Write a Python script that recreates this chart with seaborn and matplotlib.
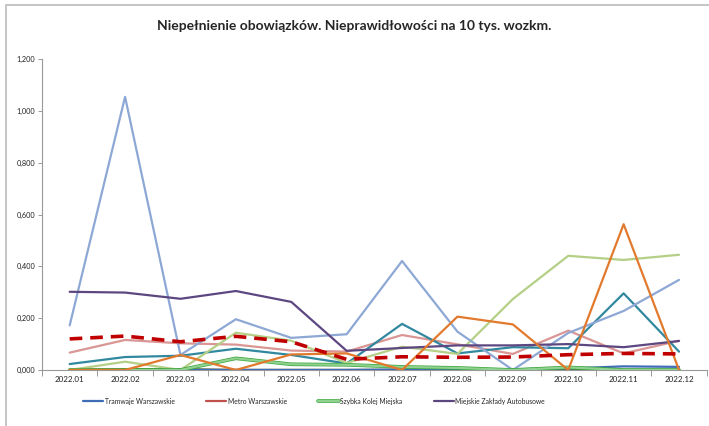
# plot.py - Niepełnienie obowiązków, nieprawidłowości na 10 tys. wozkm (2022)

import numpy as np
import pandas as pd
import matplotlib
matplotlib.use("Agg")
import matplotlib.pyplot as plt
import matplotlib.patheffects as pe
from matplotlib.ticker import FuncFormatter, MultipleLocator
import seaborn as sns

# ------------- data --------------
months = ["2022.01", "2022.02", "2022.03", "2022.04", "2022.05", "2022.06",
          "2022.07", "2022.08", "2022.09", "2022.10", "2022.11", "2022.12"]

tramwaje = [0.000, 0.000, 0.000, 0.000, 0.000, 0.000, 0.002, 0.003, 0.003, 0.006, 0.014, 0.012]
metro = [0.000, 0.000, 0.000, 0.000, 0.000, 0.000, 0.000, 0.000, 0.000, 0.000, 0.000, 0.000]
skm = [0.000, 0.000, 0.000, 0.045, 0.022, 0.020, 0.012, 0.008, 0.000, 0.010, 0.000, 0.000]
mza = [0.302, 0.299, 0.275, 0.305, 0.263, 0.074, 0.085, 0.095, 0.095, 0.100, 0.088, 0.112]
olive = [0.000, 0.003, 0.003, 0.000, 0.000, 0.000, 0.000, 0.000, 0.002, 0.004, 0.000, 0.000]
teal = [0.023, 0.050, 0.055, 0.082, 0.058, 0.025, 0.178, 0.064, 0.088, 0.084, 0.296, 0.071]
orange = [0.000, 0.000, 0.058, 0.000, 0.060, 0.064, 0.000, 0.206, 0.176, 0.000, 0.563, 0.000]
light_blue = [0.172, 1.055, 0.058, 0.196, 0.124, 0.138, 0.421, 0.148, 0.000, 0.143, 0.228, 0.348]
rose = [0.067, 0.116, 0.103, 0.098, 0.075, 0.071, 0.135, 0.099, 0.062, 0.152, 0.064, 0.113]
light_green = [0.000, 0.032, 0.000, 0.144, 0.113, 0.027, 0.090, 0.062, 0.274, 0.441, 0.425, 0.445]
average = [0.120, 0.131, 0.109, 0.130, 0.109, 0.041, 0.051, 0.049, 0.050, 0.059, 0.064, 0.062]

# ------------- style --------------
sns.set_style("white")
plt.rcParams["font.family"] = ["Lato", "DejaVu Sans"]

fig = plt.figure(figsize=(7.09, 4.26), dpi=100)
ax = fig.add_axes([0.0592, 0.1315, 0.9376, 0.7293])

# (values, colour, width, label, zorder)
series = [
    (metro, "#c0504d", 1.6, "Metro Warszawskie", 2),
    (olive, "#4f6228", 1.6, None, 2),
    (tramwaje, "#3e6db5", 1.6, "Tramwaje Warszawskie", 3),
    (skm, "#8fd18f", 1.6, "Szybka Kolej Miejska", 3),
    (rose, "#d99694", 1.6, None, 2),
    (teal, "#31889f", 1.6, None, 2),
    (light_green, "#b4cf86", 1.6, None, 2),
    (orange, "#e27a2e", 1.6, None, 3),
    (light_blue, "#8ea8d6", 1.6, None, 2),
    (mza, "#5d4781", 1.6, "Miejskie Zakłady Autobusowe", 2),
]

handles = {}
for vals, col, lw, lab, z in series:
    df = pd.DataFrame({"month": months, "value": vals})
    sns.lineplot(data=df, x="month", y="value", color=col, linewidth=lw,
                 ax=ax, zorder=z, sort=False)
    line = ax.lines[-1]
    if lab == "Szybka Kolej Miejska":
        line.set_path_effects([pe.Stroke(linewidth=2.6, foreground="#3aa53a"), pe.Normal()])
    if lab:
        handles[lab] = line

df_avg = pd.DataFrame({"month": months, "value": average})
sns.lineplot(data=df_avg, x="month", y="value", color="#c00000", linewidth=2.6,
             ax=ax, zorder=4, sort=False)
ax.lines[-1].set_dashes([3.5, 2.2])

# ------------- axes --------------
ax.set_xlim(-0.5, len(months) - 0.5)
ax.set_ylim(0, 1.2)
ax.yaxis.set_major_locator(MultipleLocator(0.2))
ax.yaxis.set_major_formatter(FuncFormatter(lambda v, p: f"{v:.3f}".replace(".", ",")))
ax.set_xlabel("")
ax.set_ylabel("")
ax.tick_params(axis="y", labelsize=5.3, length=3, width=0.6, color="#888888",
               direction="out", left=True, pad=2, labelcolor="#222222")
ax.tick_params(axis="x", labelsize=5.8, length=0, pad=4, labelcolor="#222222")
# tick marks between categories like Excel
ax.set_xticks(np.arange(-0.5, len(months)), minor=True)
ax.tick_params(axis="x", which="minor", length=4, width=0.6, color="#888888",
               direction="out", bottom=True)
for s in ["top", "right"]:
    ax.spines[s].set_visible(False)
for s in ["left", "bottom"]:
    ax.spines[s].set_color("#999999")
    ax.spines[s].set_linewidth(0.8)

# ------------- legend --------------
order = ["Tramwaje Warszawskie", "Metro Warszawskie", "Szybka Kolej Miejska",
         "Miejskie Zakłady Autobusowe"]
fig.legend([handles[k] for k in order], order, loc="center",
           bbox_to_anchor=(0.443, 0.058), ncol=4, frameon=False, fontsize=4.9,
           handlelength=3.0, handletextpad=0.2, columnspacing=4.6)

# ------------- title and frame --------------
fig.text(0.5, 0.94, "Niepełnienie obowiązków. Nieprawidłowości na 10 tys. wozkm.",
         ha="center", va="center", fontsize=10, fontweight="bold")
fig.patches.append(plt.Rectangle((6 / 709, -0.05), 1.2, (421 / 426) + 0.05,
                                 transform=fig.transFigure, fill=False,
                                 edgecolor="#bbbbbb", linewidth=1.2))

fig.savefig("out.png", dpi=100)
